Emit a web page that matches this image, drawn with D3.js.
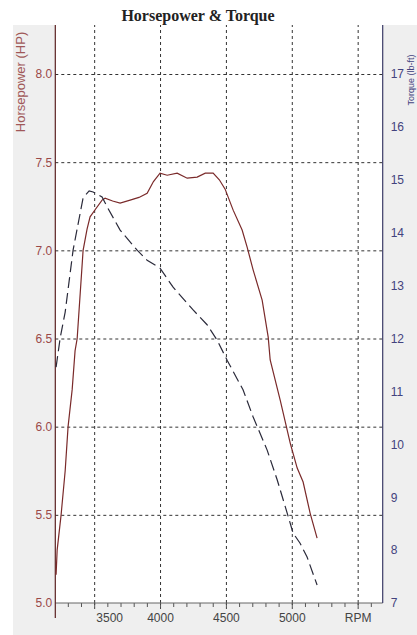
<!DOCTYPE html>
<html><head><meta charset="utf-8">
<script src="https://cdn.jsdelivr.net/npm/d3@7"></script>
<style>body{margin:0;background:#fff;}svg{display:block;}</style>
</head><body>
<svg id="chart" width="417" height="635"></svg>
<script>
// ---- data ----
const hpRpm = [3211,3219,3249,3280,3302,3333,3355,3371,3416,3446,3469,3507,3560,3583,3640,3697,3773,3840,3902,3950,4000,4054,4130,4206,4282,4343,4403,4450,4494,4555,4623,4661,4707,4775,4821,4836,4912,4988,5041,5086,5139,5192];
const hpVal = [5.16,5.30,5.50,5.75,6.00,6.21,6.43,6.50,7.00,7.12,7.19,7.23,7.285,7.296,7.28,7.268,7.285,7.30,7.324,7.39,7.438,7.426,7.438,7.409,7.415,7.438,7.438,7.40,7.347,7.228,7.115,7.018,6.888,6.718,6.508,6.378,6.151,5.907,5.765,5.686,5.51,5.368];
const tqRpm = [3211,3242,3280,3340,3416,3462,3492,3560,3598,3697,3826,3902,4000,4099,4251,4357,4433,4509,4630,4706,4813,4889,4965,5010,5063,5116,5192];
const tqVal = [11.46,12.01,12.50,13.67,14.66,14.79,14.77,14.675,14.49,14.05,13.67,13.48,13.33,12.97,12.54,12.26,11.97,11.59,11.03,10.52,9.89,9.33,8.70,8.32,8.13,7.87,7.34];
const xMajorTicks = [3500,4000,4500,5000,5500];
const xTickLabels = ["3500","4000","4500","5000","RPM"];
const hpTicks = [5.0,5.5,6.0,6.5,7.0,7.5,8.0];
const tqTicks = [7,8,9,10,11,12,13,14,15,16,17];
const title = "Horsepower & Torque";
const hpLabel = "Horsepower (HP)";
const tqLabel = "Torque (lb-ft)";

// ---- layout ----
const L = 55.3, R = 382.7, T = 25, B = 603;
const svg = d3.select("#chart");
const x = d3.scaleLinear().domain([3205, 5690]).range([L, R]);
const yHP = d3.scaleLinear().domain([5, 8]).range([B, 74]);
const yTq = d3.scaleLinear().domain([7, 17]).range([B, 74]);

// backgrounds
svg.append("rect").attr("x",13).attr("y",T).attr("width",417-13).attr("height",635-T).attr("fill","#efefef");
svg.append("rect").attr("x",L).attr("y",T).attr("width",R-L).attr("height",B-T).attr("fill","#ffffff");

// title
svg.append("text").attr("x",198).attr("y",21).attr("text-anchor","middle")
  .attr("font-family","'Liberation Serif','Times New Roman',serif").attr("font-weight","bold")
  .attr("font-size",16).attr("fill","#222").text(title);

// vertical grid
const gx = svg.append("g").attr("transform",`translate(0,${B})`)
  .call(d3.axisBottom(x).tickValues(xMajorTicks).tickSize(-(B-T)).tickFormat(""));
gx.select(".domain").remove();
gx.selectAll("line").attr("stroke","#333").attr("stroke-dasharray","3,3").attr("stroke-width",1);

// horizontal grid
const gy = svg.append("g").attr("transform",`translate(${L},0)`)
  .call(d3.axisRight(yHP).tickValues(hpTicks.filter(d=>d>5)).tickSize(R-L).tickFormat(""));
gy.select(".domain").remove();
gy.selectAll("line").attr("stroke","#333").attr("stroke-dasharray","3,3").attr("stroke-width",1);

// minor x ticks
const minor = d3.range(3300, 5690, 100);
const gm = svg.append("g").attr("transform",`translate(0,${B})`)
  .call(d3.axisBottom(x).tickValues(minor).tickSize(4).tickFormat(""));
gm.select(".domain").remove();
gm.selectAll("line").attr("stroke","#555");
const gmaj = svg.append("g").attr("transform",`translate(0,${B})`)
  .call(d3.axisBottom(x).tickValues(xMajorTicks).tickSize(8).tickFormat(""));
gmaj.select(".domain").remove();
gmaj.selectAll("line").attr("stroke","#444").attr("stroke-dasharray","2,2");

// x labels
const gxl = svg.append("g").attr("transform",`translate(0,${B})`)
  .call(d3.axisBottom(x).tickValues(xMajorTicks).tickSize(0).tickPadding(0)
    .tickFormat((d,i)=>xTickLabels[i]));
gxl.select(".domain").remove();
gxl.selectAll("text").attr("font-family","Arial,'Liberation Sans',sans-serif").attr("font-size",12)
  .attr("fill","#444").attr("dy",null).attr("y",19)
  .attr("dx",(d,i)=> i===0 ? 15 : 0);

// x axis line
svg.append("line").attr("x1",L).attr("x2",R).attr("y1",B).attr("y2",B).attr("stroke","#666").attr("stroke-width",1);

// left axis
const gl = svg.append("g").attr("transform",`translate(${L},0)`)
  .call(d3.axisLeft(yHP).tickValues(hpTicks).tickSize(0).tickPadding(3).tickFormat(d3.format(".1f")));
gl.select(".domain").remove();
gl.selectAll("text").attr("font-family","Arial,'Liberation Sans',sans-serif").attr("font-size",12).attr("fill","#9a4848");
svg.append("line").attr("x1",L).attr("x2",L).attr("y1",T).attr("y2",618).attr("stroke","#5a2020").attr("stroke-width",1.2);

// right axis
const gr = svg.append("g").attr("transform",`translate(${R},0)`)
  .call(d3.axisRight(yTq).tickValues(tqTicks).tickSize(0).tickPadding(8).tickFormat(d3.format("d")));
gr.select(".domain").remove();
gr.selectAll("text").attr("font-family","Arial,'Liberation Sans',sans-serif").attr("font-size",12).attr("fill","#43437e");
svg.append("line").attr("x1",R).attr("x2",R).attr("y1",T).attr("y2",B).attr("stroke","#3a3a66").attr("stroke-width",1.2);

// axis titles
svg.append("text").attr("transform","translate(25,82) rotate(-90)").attr("text-anchor","middle")
  .attr("font-family","Arial,'Liberation Sans',sans-serif").attr("font-size",13).attr("fill","#a05858").text(hpLabel);
svg.append("text").attr("transform","translate(414,80) rotate(-90)").attr("text-anchor","middle")
  .attr("font-family","Arial,'Liberation Sans',sans-serif").attr("font-size",9).attr("fill","#43437e").text(tqLabel);

// curves
const hpData = hpRpm.map((r,i)=>[r,hpVal[i]]);
const tqData = tqRpm.map((r,i)=>[r,tqVal[i]]);
svg.append("path").datum(hpData)
  .attr("d", d3.line().x(d=>x(d[0])).y(d=>yHP(d[1])))
  .attr("fill","none").attr("stroke","#7a2a2a").attr("stroke-width",1.2);
svg.append("path").datum(tqData)
  .attr("d", d3.line().x(d=>x(d[0])).y(d=>yTq(d[1])))
  .attr("fill","none").attr("stroke","#2a2a3a").attr("stroke-width",1.2).attr("stroke-dasharray","11,5");
</script>
</body></html>
